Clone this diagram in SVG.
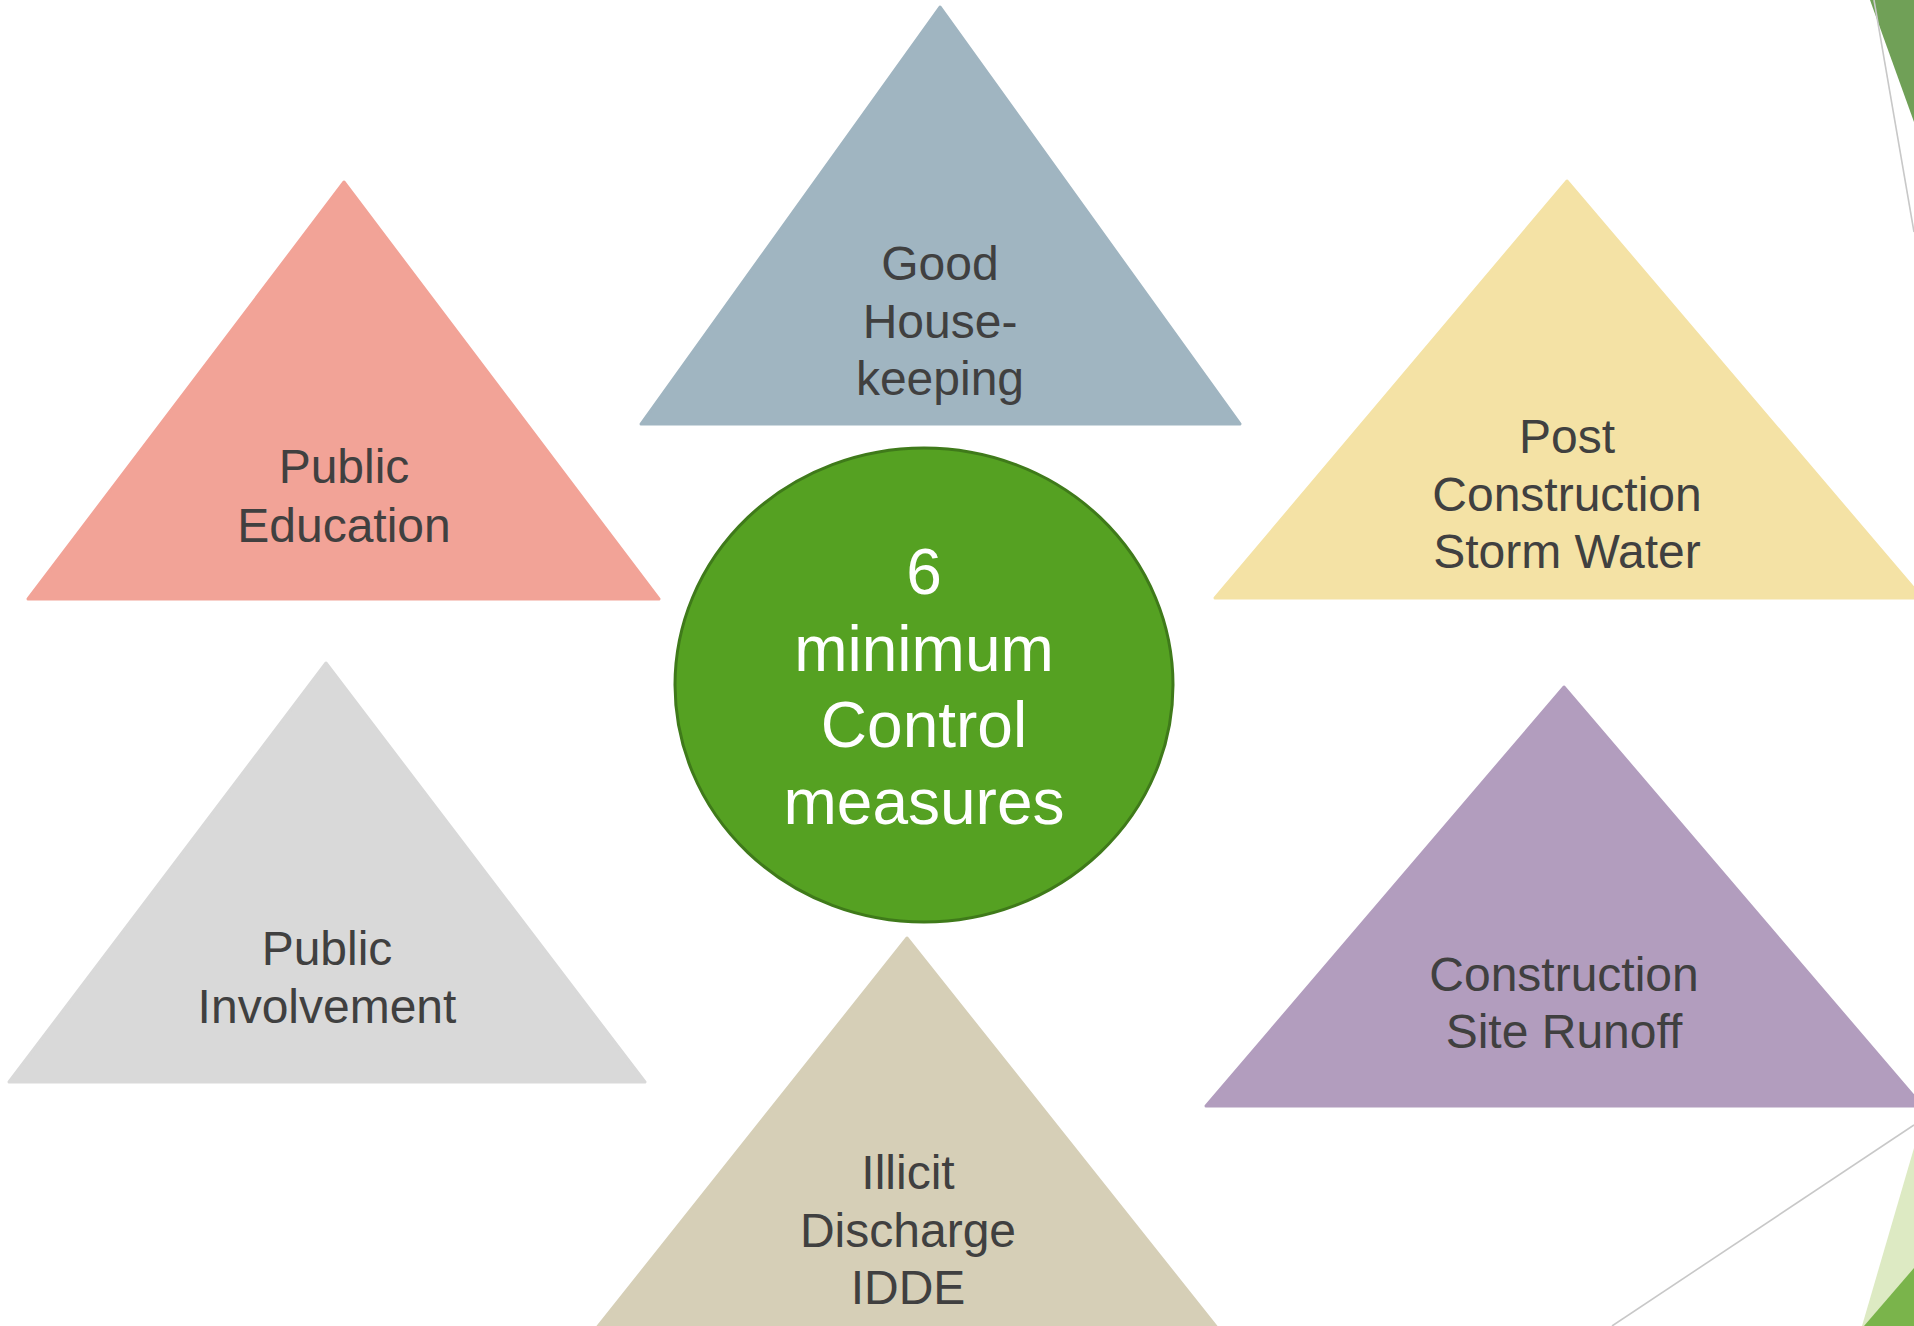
<svg xmlns="http://www.w3.org/2000/svg" width="1914" height="1326" viewBox="0 0 1914 1326">
<style>
.tri{stroke-linejoin:round;stroke-width:3}
.lbl{font-family:"Liberation Sans","DejaVu Sans",sans-serif;font-size:48px;fill:#404040;text-anchor:middle}
.ctr{font-family:"Liberation Sans","DejaVu Sans",sans-serif;font-size:64px;fill:#FFFFFF;text-anchor:middle}
.deco{stroke:#C8C8C8;stroke-width:1.6;fill:none}
</style>
<rect x="0" y="0" width="1914" height="1326" fill="#FFFFFF"/>
<g id="decor">
<polygon points="1870,0 1914,0 1914,122" fill="#70A057"/>
<line class="deco" x1="1874" y1="0" x2="1914" y2="232"/>
<line class="deco" x1="1914" y1="1125" x2="1612" y2="1326"/>
<polygon points="1914,1148 1862,1326 1914,1326" fill="#DDEAC3"/>
<polygon points="1914,1268 1864,1326 1914,1326" fill="#7AB44B"/>
</g>
<g id="connectors"></g>
<g id="public-education">
<polygon class="tri" points="344,182 659,599 28,599" fill="#F2A397" stroke="#F2A397"/>
<text class="lbl" x="344" y="483">Public</text>
<text class="lbl" x="344" y="542">Education</text>
</g>
<g id="good-housekeeping">
<polygon class="tri" points="940,7 1240,424 641,424" fill="#A0B5C1" stroke="#A0B5C1"/>
<text class="lbl" x="940" y="280">Good</text>
<text class="lbl" x="940" y="338">House-</text>
<text class="lbl" x="940" y="395">keeping</text>
</g>
<g id="post-construction">
<polygon class="tri" points="1567,181 1922,598 1215,598" fill="#F4E2A5" stroke="#F4E2A5"/>
<text class="lbl" x="1567" y="453">Post</text>
<text class="lbl" x="1567" y="511">Construction</text>
<text class="lbl" x="1567" y="568">Storm Water</text>
</g>
<g id="public-involvement">
<polygon class="tri" points="326,663 645,1082 9,1082" fill="#D9D9D9" stroke="#D9D9D9"/>
<text class="lbl" x="327" y="965">Public</text>
<text class="lbl" x="327" y="1023">Involvement</text>
</g>
<g id="illicit-discharge">
<polygon class="tri" points="907,938 1230,1344 584,1344" fill="#D6CFB7" stroke="#D6CFB7"/>
<text class="lbl" x="908" y="1189">Illicit</text>
<text class="lbl" x="908" y="1247">Discharge</text>
<text class="lbl" x="908" y="1304">IDDE</text>
</g>
<g id="construction-site-runoff">
<polygon class="tri" points="1564,687 1922,1106 1206,1106" fill="#B29DBE" stroke="#B29DBE"/>
<text class="lbl" x="1564" y="991">Construction</text>
<text class="lbl" x="1564" y="1048">Site Runoff</text>
</g>
<g id="center">
<ellipse cx="924" cy="685" rx="249" ry="237" fill="#55A122" stroke="#3F7A1A" stroke-width="3"/>
<text class="ctr" x="924" y="594">6</text>
<text class="ctr" x="924" y="671">minimum</text>
<text class="ctr" x="924" y="747">Control</text>
<text class="ctr" x="924" y="824">measures</text>
</g>
</svg>
